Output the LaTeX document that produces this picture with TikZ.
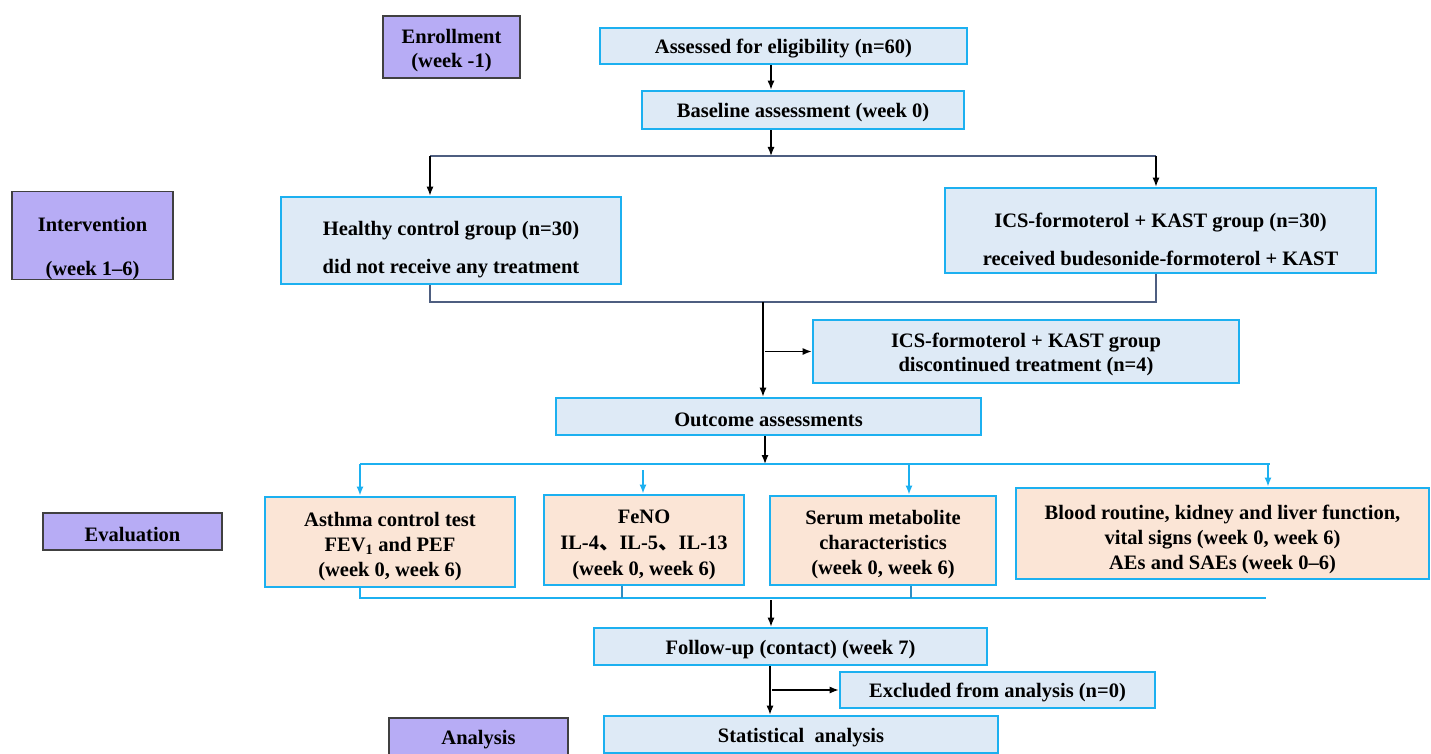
\documentclass[tikz,border=0pt]{standalone}
\usepackage{fontspec}
\setmainfont{Liberation Serif}
\newfontfamily\cjk{Noto Sans CJK SC}
\usetikzlibrary{positioning,calc,arrows.meta}

\definecolor{stagefill}{RGB}{183,172,245}
\definecolor{boxfill}{RGB}{222,234,246}
\definecolor{boxline}{RGB}{28,176,240}
\definecolor{evalfill}{RGB}{251,229,214}
\definecolor{slate}{RGB}{78,94,128}

% strut that pushes a multi-line text down in its box
\newcommand{\lift}[1]{\rule{0pt}{#1}}

\begin{document}
\begin{tikzpicture}[x=1pt,y=-1pt,>={Latex[length=9pt,width=7pt]},
	drop/.style={execute at begin node={\rule{0pt}{#1}}},
	stage/.style={draw=black!75,line width=1.3pt,fill=stagefill,inner sep=0pt,align=center,
		font=\fontsize{20.5}{24}\selectfont\bfseries},
	flow/.style={draw=boxline,line width=2.6pt,fill=boxfill,inner sep=0pt,align=center,
		font=\fontsize{20.5}{24}\selectfont\bfseries},
	wide/.style={font=\fontsize{20.5}{38}\selectfont\bfseries},
	measure/.style={flow,fill=evalfill,font=\fontsize{20.5}{25}\selectfont\bfseries},
	link/.style={line width=1.3pt,black},
	bar/.style={line width=1.6pt,slate},
	bluelink/.style={line width=2.2pt,boxline}]
	
	\clip (0,0) rectangle (1431,754);
	
	% Draw the stage labels on the left
	\node[stage,minimum width=137pt,minimum height=62pt] (enroll) at (451.5,47) {\lift{20.5pt}Enrollment\\(week -1)};
	\node[stage,font=\fontsize{20.5}{44}\selectfont\bfseries,minimum width=161pt,minimum height=85pt] (interv) at (92.5,235.5) {\lift{40pt}Intervention\\(week 1--6)};
	\node[stage,drop=20pt,minimum width=179pt,minimum height=37pt] (eval) at (132.5,531.5) {Evaluation};
	\node[stage,drop=20pt,minimum width=179pt,minimum height=37pt] (anal) at (478.5,736.5) {Analysis};
	
	% Draw the main flow boxes
	\node[flow,drop=20pt,minimum width=367pt,minimum height=36pt] (assess) at (783.5,46) {Assessed for eligibility (n=60)};
	\node[flow,drop=20pt,minimum width=322pt,minimum height=38pt] (base) at (803,110) {Baseline assessment (week 0)};
	\node[flow,wide,minimum width=340pt,minimum height=87pt] (healthy) at (451,240.5) {\lift{33pt}Healthy control group (n=30)\\did not receive any treatment};
	\node[flow,wide,minimum width=431pt,minimum height=85pt] (ics) at (1160.5,230.5) {\lift{33pt}ICS-formoterol + KAST group (n=30)\\received budesonide-formoterol + KAST};
	\node[flow,minimum width=426pt,minimum height=63pt] (stop) at (1026,351.5) {\lift{20.5pt}ICS-formoterol + KAST group\\discontinued treatment (n=4)};
	\node[flow,drop=20pt,minimum width=425pt,minimum height=37pt] (outcome) at (768.5,416.5) {Outcome assessments};
	\node[flow,drop=20pt,minimum width=393pt,minimum height=37pt] (follow) at (790.5,646.5) {Follow-up (contact) (week 7)};
	\node[flow,drop=20pt,minimum width=315pt,minimum height=36pt] (excl) at (997.5,690) {Excluded from analysis (n=0)};
	\node[flow,drop=20pt,minimum width=394pt,minimum height=37pt] (stat) at (801,734.5) {Statistical~ analysis};
	
	% Draw the evaluation boxes
	\node[measure,minimum width=250pt,minimum height=90pt] (act) at (390,542) {\lift{23pt}Asthma control test\\FEV\textsubscript{1} and PEF\\(week 0, week 6)};
	\node[measure,font=\fontsize{20.5}{26}\selectfont\bfseries,minimum width=200pt,minimum height=90pt] (feno) at (644,540) {\lift{23pt}FeNO\\IL-4{\cjk 、}IL-5{\cjk 、}IL-13\\(week 0, week 6)};
	\node[measure,minimum width=226pt,minimum height=89pt] (serum) at (883,540.5) {\lift{23pt}Serum metabolite\\characteristics\\(week 0, week 6)};
	\node[measure,minimum width=413pt,minimum height=91pt] (blood) at (1222.5,533.5) {\lift{26.5pt}Blood routine, kidney and liver function,\\vital signs (week 0, week 6)\\AEs and SAEs (week 0--6)};
	
	% Spine coordinates
	\coordinate (s1) at (771,156);
	\coordinate (s2) at (763,302);
	\coordinate (s3) at (765,464);
	\coordinate (s5) at (770,690);
	\coordinate (hl) at (430,0);
	\coordinate (ir) at (1156,0);
	
	% Enrollment to intervention
	\draw[link,->] (assess.south -| s1) -- (base.north -| s1);
	\draw[link,->] (base.south -| s1) -- (s1);
	\draw[bar] (hl |- s1) -- (ir |- s1);
	\draw[link,->] (hl |- s1) -- (healthy.north -| hl);
	\draw[link,->] (ir |- s1) -- (ics.north -| ir);
	
	% Intervention to outcome
	\draw[bar] (healthy.south -| hl) -- (hl |- s2) -- (ir |- s2) -- (ics.south -| ir);
	\draw[link,->] (s2) -- (outcome.north -| s2);
	\draw[link,->] (stop.west -| s2) ++(2,0) -- (stop.west);
	
	% Outcome to evaluation
	\draw[link,->] (outcome.south -| s3) -- (s3);
	\draw[bluelink] (360,464) -- (1270,464);
	\draw[bluelink,->] (360,464) -- (act.north -| 360,0);
	\draw[bluelink,->] (643,470) -- (feno.north -| 643,0);
	\draw[bluelink,->] (909,464) -- (serum.north -| 909,0);
	\draw[bluelink,->] (1268,464) -- (blood.north -| 1268,0);
	\draw[bluelink] (act.south -| 360,0) -- (360,598) -- (1266,598);
	\draw[line width=1.2pt,boxline!60!slate] (feno.south -| 622,0) -- (622,598);
	\draw[line width=1.2pt,boxline!60!slate] (serum.south -| 911,0) -- (911,598);
	
	% Follow-up and analysis
	\draw[link,->] (771,600) -- (follow.north -| 771,0);
	\draw[link,->] (follow.south -| s5) -- (stat.north -| s5);
	\draw[link,->] (s5) ++(2,0) -- (excl.west);
	
\end{tikzpicture}
\end{document}
